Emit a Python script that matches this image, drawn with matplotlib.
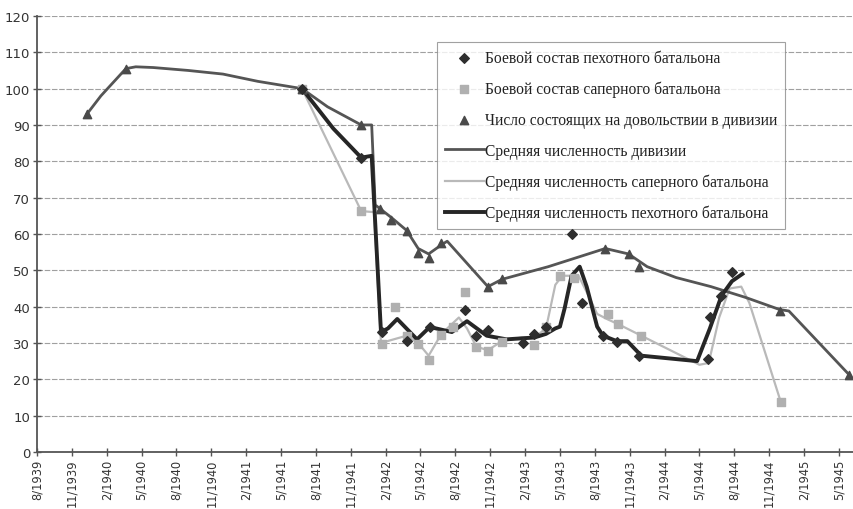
import matplotlib
matplotlib.use("Agg")
import matplotlib.pyplot as plt
from matplotlib.ticker import FixedLocator, FuncFormatter

# x values: months counted from August 1939 (tick "8/1939" = 0)
start_year, start_month = 1939, 8

# Число состоящих на довольствии в дивизии (triangles)
div_t = [4.3, 7.65, 22.8, 27.9, 29.5, 30.5, 31.8, 32.8, 33.7, 34.8, 38.8, 40.0,
         48.9, 50.9, 51.8, 63.9, 69.9]
div_v = [93, 105.5, 100, 90, 67, 63.8, 60.8, 54.7, 53.4, 57.5, 45.5, 47.5,
         55.8, 54.5, 50.8, 38.8, 21.2]

# Средняя численность дивизии
div_avg_t = [4.3, 5.5, 7.65, 8.5, 10, 13, 16, 19, 22.8, 25, 27.9, 28.8, 29.1,
             29.5, 30.5, 31.8, 32.8, 33.7, 34.8, 35.3, 38.8, 40.0, 44, 48.9,
             50.9, 52.5, 55, 58, 61, 63.9, 64.7, 69.9]
div_avg_v = [93, 98, 105.5, 106, 105.8, 105, 104, 102, 100, 95, 90, 90, 68,
             67, 64.5, 61, 56, 54.5, 57, 58, 45.5, 47.5, 51, 56,
             54.5, 51, 48, 45.5, 42.5, 39.2, 38.8, 21.2]

# Боевой состав саперного батальона (squares)
sap_t = [22.8, 27.9, 29.7, 30.8, 31.8, 32.8, 33.7, 34.8, 35.8, 36.8, 37.8, 38.8,
         40.0, 42.8, 43.8, 45.0, 46.2, 49.1, 50.0, 52.0, 64.0]
sap_v = [100, 66.3, 29.7, 40, 32, 29.7, 25.3, 32.3, 34.4, 44, 29, 27.7,
         30.3, 29.5, 34.4, 48.4, 48, 38, 35.2, 32, 13.8]

# Средняя численность саперного батальона
sap_avg_t = [22.8, 27.9, 29.0, 29.6, 31.8, 32.8, 33.7, 34.8, 36.3, 37.0, 37.8,
             38.8, 40.0, 41.7, 42.8, 43.8, 44.6, 45.2, 46.6, 47.3, 48.2, 49.1,
             50.0, 52.0, 57.0, 57.8, 58.7, 59.6, 60.6, 61.3, 64.0]
sap_avg_v = [100, 66.3, 66, 30, 32, 30, 26.5, 32.5, 37, 34, 29,
             28, 30.5, 31.5, 31.5, 34, 46, 48.5, 48.5, 44, 38, 36.5,
             35.2, 32, 24, 24.5, 37, 45, 45.5, 41, 13.8]

# Боевой состав пехотного батальона (diamonds)
inf_t = [22.8, 27.9, 29.7, 31.8, 33.8, 36.8, 37.8, 38.8, 41.8, 42.8, 43.8, 46.0,
         46.9, 48.7, 49.9, 51.8, 57.7, 57.9, 58.9, 59.8]
inf_v = [100, 81, 33, 30.5, 34.5, 39, 32, 33.6, 30, 32.5, 34.4, 60,
         41, 32, 30.3, 26.4, 25.5, 37.1, 43, 49.5]

# Средняя численность пехотного батальона
inf_avg_t = [22.8, 25.5, 27.9, 28.8, 29.6, 30.2, 31.0, 32.7, 33.8, 35.7, 37.0,
             38.7, 40.4, 42.8, 43.8, 44.6, 45.0, 45.4, 46.0, 46.7, 47.3, 48.2,
             48.7, 49.9, 50.8, 52.0, 56.8, 57.9, 58.9, 59.8, 60.7]
inf_avg_v = [100, 89, 81, 81.5, 33, 34, 36.6, 31, 34.4, 33, 36,
             32, 31, 31.5, 32.5, 34, 34.5, 39.5, 48.5, 51, 45.5, 34.5,
             32, 30.5, 30.5, 26.5, 25, 34, 43, 47, 49]

labels = [
    "Боевой состав пехотного батальона",
    "Боевой состав саперного батальона",
    "Число состоящих на довольствии в дивизии",
    "Средняя численность дивизии",
    "Средняя численность саперного батальона",
    "Средняя численность пехотного батальона",
]

fig = plt.figure(figsize=(8.54, 5.10), dpi=100)
ax = fig.add_axes([0.0433, 0.1118, 0.956, 0.855])

ax.set_ylim(0, 120)
ax.set_xlim(0, 70.25)
ax.yaxis.set_major_locator(FixedLocator(range(0, 121, 10)))
ax.grid(axis="y", color="#a0a0a0", linestyle=(0, (5, 1.5)), linewidth=0.8)
ax.set_axisbelow(True)

# lines first, markers on top
l_sap, = ax.plot(sap_avg_t, sap_avg_v, color="#b9b9b9", lw=1.6, zorder=3)
l_div, = ax.plot(div_avg_t, div_avg_v, color="#555555", lw=2.0, zorder=4)
l_inf, = ax.plot(inf_avg_t, inf_avg_v, color="#262626", lw=2.8, zorder=5,
                 solid_joinstyle="round")

m_sap = ax.scatter(sap_t, sap_v, marker="s", s=30, color="#b0b0b0", zorder=6)
m_div = ax.scatter(div_t, div_v, marker="^", s=36, color="#4a4a4a", zorder=7)
m_inf = ax.scatter(inf_t, inf_v, marker="D", s=24, color="#2e2e2e", zorder=8)

# x ticks every quarter, labelled month/year
ticks = list(range(0, 70, 3))
ax.xaxis.set_major_locator(FixedLocator(ticks))


def month_label(v, pos):
    n = start_month - 1 + int(round(v))
    return f"{n % 12 + 1}/{start_year + n // 12}"


ax.xaxis.set_major_formatter(FuncFormatter(month_label))

tick_font = ["Liberation Sans Narrow", "DejaVu Sans"]
for lab in ax.get_xticklabels():
    lab.set_rotation(90)
    lab.set_fontsize(8.3)
    lab.set_family(tick_font)
    lab.set_color("#333333")
for lab in ax.get_yticklabels():
    lab.set_fontsize(9.5)
    lab.set_family(tick_font)
    lab.set_color("#333333")

ax.tick_params(axis="both", direction="inout", length=6, width=1,
               color="#555555", pad=2)
for side in ("top", "right"):
    ax.spines[side].set_visible(False)
for side in ("left", "bottom"):
    ax.spines[side].set_color("#555555")
    ax.spines[side].set_linewidth(1.3)

leg = ax.legend([m_inf, m_sap, m_div, l_div, l_sap, l_inf], labels,
                loc="upper left", bbox_to_anchor=(0.49, 0.94),
                prop={"family": "Liberation Serif", "size": 11.2},
                frameon=True, fancybox=False, edgecolor="#8a8a8a",
                labelspacing=0.95, handlelength=2.5, handletextpad=0.1,
                borderpad=0.5, borderaxespad=0, scatterpoints=1)
leg.get_frame().set_linewidth(0.8)
for t in leg.get_texts():
    t.set_color("#222222")

fig.savefig("out.png", dpi=100, facecolor="white")
